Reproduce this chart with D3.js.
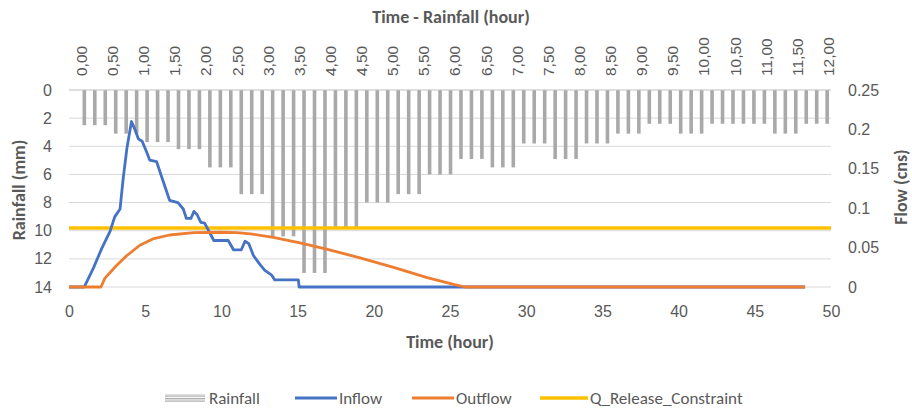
<!DOCTYPE html>
<html><head><meta charset="utf-8">
<script src="https://cdn.jsdelivr.net/npm/d3@7/dist/d3.min.js"></script>
<style>
html,body{margin:0;padding:0;background:#fff;}
svg{display:block;font-family:Carlito,Lato,"Open Sans",sans-serif;}
</style></head><body>
<svg id="chart" width="912" height="410"></svg>
<script>
// ---- data ----
const rainTickLabels = ["0,00","0,50","1,00","1,50","2,00","2,50","3,00","3,50","4,00","4,50","5,00","5,50","6,00",
  "6,50","7,00","7,50","8,00","8,50","9,00","9,50","10,00","10,50","11,00","11,50","12,00"];
const rainfall = [2.5,2.5,2.5, 3.1,3.1,3.1, 3.7,3.7,3.7, 4.2,4.2,4.2, 5.5,5.5,5.5, 7.4,7.4,7.4,
  10.4,10.4,10.4, 13.0,13.0,13.0, 9.8,9.8,9.8, 8.0,8.0,8.0, 7.4,7.4,7.4, 6.0,6.0,6.0,
  4.9,4.9,4.9, 5.5,5.5,5.5, 3.8,3.8,3.8, 4.9,4.9,4.9, 3.8,3.8,3.8, 3.1,3.1,3.1,
  2.4,2.4,2.4, 3.1,3.1,3.1, 2.4,2.4,2.4, 2.4,2.4,2.4, 3.1,3.1,3.1, 2.4,2.4,2.4];
const inflowTime = [0,1.0,1.6,2.15,2.7,3.0,3.35,3.55,3.8,4.1,4.3,4.55,4.8,5.1,5.3,5.75,6.2,6.6,7.15,7.5,7.7,8.0,8.2,8.4,8.65,8.9,9.15,9.5,10.45,10.8,11.3,11.55,11.8,12.1,12.55,12.85,13.3,13.5,15.05,15.1,48.3];
const inflowQ = [0,0,0.024,0.049,0.071,0.089,0.099,0.137,0.176,0.210,0.201,0.188,0.185,0.171,0.161,0.159,0.133,0.110,0.107,0.099,0.087,0.087,0.096,0.092,0.082,0.081,0.072,0.059,0.059,0.047,0.047,0.058,0.055,0.040,0.028,0.021,0.015,0.009,0.009,0,0];
const outflowTime = [0,2.1,2.35,3.1,3.8,4.65,5.5,6.6,8.2,9.9,11.0,11.9,13.4,15.15,16.9,19.1,21.3,23.5,25.3,26.0,48.3];
const outflowQ = [0,0,0.011,0.027,0.040,0.053,0.061,0.066,0.069,0.0695,0.069,0.0675,0.063,0.056,0.048,0.037,0.025,0.012,0.003,0,0];
const releaseTime = [0,50];
const releaseQ = [0.075,0.075];
const rainTicks = [0,2,4,6,8,10,12,14];
const flowTicks = [0,0.05,0.1,0.15,0.2,0.25];
const timeTicks = [0,5,10,15,20,25,30,35,40,45,50];

// ---- layout ----
const svg = d3.select("#chart");
const L = 69, R = 831, T = 90, B = 287;
const txt = "#595959";

const x = d3.scaleLinear().domain([0,50]).range([L,R]);
const yRain = d3.scaleLinear().domain([0,14]).range([T,B]);
const yFlow = d3.scaleLinear().domain([0,0.25]).range([B,T]);
const xBar = d3.scaleBand().domain(d3.range(rainfall.length)).range([79.1,832.4]);
const xTop = d3.scalePoint().domain(rainTickLabels).range([81,828]);

// gridlines
svg.append("g").selectAll("line").data(rainTicks.filter(d=>d>0)).join("line")
  .attr("x1",L).attr("x2",R).attr("y1",d=>yRain(d)).attr("y2",d=>yRain(d))
  .attr("stroke","#d9d9d9").attr("stroke-width",1);

// bars
svg.append("g").selectAll("rect").data(rainfall).join("rect")
  .attr("x",(d,i)=>xBar(i)+xBar.bandwidth()/2-1.8)
  .attr("width",3.6)
  .attr("y",yRain(0))
  .attr("height",d=>yRain(d)-yRain(0))
  .attr("fill","#a9a9a9");

// top category axis line
svg.append("line").attr("x1",L).attr("x2",R).attr("y1",T).attr("y2",T)
  .attr("stroke","#bfbfbf").attr("stroke-width",1.2);

// lines
const line = d3.line().x(d=>x(d[0])).y(d=>yFlow(d[1]));
svg.append("path").datum(releaseTime.map((t,i)=>[t,releaseQ[i]]))
  .attr("d",line).attr("fill","none").attr("stroke","#FFC000").attr("stroke-width",3.5);
svg.append("path").datum(inflowTime.map((t,i)=>[t,inflowQ[i]]))
  .attr("d",line).attr("fill","none").attr("stroke","#4472C4").attr("stroke-width",2.8).attr("stroke-linejoin","round");
svg.append("path").datum(outflowTime.map((t,i)=>[t,outflowQ[i]]))
  .attr("d",line).attr("fill","none").attr("stroke","#ED7D31").attr("stroke-width",2.8).attr("stroke-linejoin","round");

// left axis
const gl = svg.append("g").attr("transform",`translate(${L},0)`)
  .call(d3.axisLeft(yRain).tickValues(rainTicks).tickSize(0).tickPadding(17));
gl.select(".domain").remove();
gl.selectAll("text").attr("fill",txt).style("font-size","16px");

// right axis
const gr = svg.append("g").attr("transform",`translate(${R},0)`)
  .call(d3.axisRight(yFlow).tickValues(flowTicks).tickSize(0).tickPadding(17).tickFormat(d3.format("")));
gr.select(".domain").remove();
gr.selectAll("text").attr("fill",txt).style("font-size","16px");

// bottom axis
const gb = svg.append("g").attr("transform",`translate(0,${B})`)
  .call(d3.axisBottom(x).tickValues(timeTicks).tickSize(0).tickPadding(19));
gb.select(".domain").remove();
gb.selectAll("text").attr("fill",txt).style("font-size","16px");

// top axis labels (rotated)
const gt = svg.append("g").attr("transform",`translate(0,${T})`)
  .call(d3.axisTop(xTop).tickSize(0).tickPadding(0));
gt.select(".domain").remove();
gt.selectAll("text").attr("fill",txt).style("font-size","15.5px")
  .attr("transform","translate(0,-14) rotate(-90)")
  .attr("text-anchor","start").attr("dy","0.35em").attr("x",0).attr("y",0);

// titles
const titleStyle = s => s.attr("fill",txt).style("font-size","18px").style("font-weight","bold").attr("text-anchor","middle");
svg.append("text").attr("x",451).attr("y",23).call(titleStyle).text("Time - Rainfall (hour)");
svg.append("text").attr("x",450).attr("y",348).call(titleStyle).text("Time (hour)");
svg.append("text").attr("transform","translate(25,190) rotate(-90)").call(titleStyle).text("Rainfall (mm)");
svg.append("text").attr("transform","translate(907,187) rotate(-90)").call(titleStyle).text("Flow (cns)");

// legend
const legendNames = ["Rainfall","Inflow","Outflow","Q_Release_Constraint"];
const legendColors = ["#a9a9a9","#4472C4","#ED7D31","#FFC000"];
const legendX = [165,295,412,540];
const lg = svg.append("g");
const defs = svg.append("defs");
const pat = defs.append("pattern").attr("id","stripes").attr("patternUnits","userSpaceOnUse").attr("width",4).attr("height",2.5);
pat.append("rect").attr("width",4).attr("height",1.3).attr("fill","#a9a9a9");
legendNames.forEach((n,i)=>{
  const g = lg.append("g").attr("transform",`translate(${legendX[i]},398)`);
  if(i===0){
    g.append("rect").attr("x",0).attr("y",-4).attr("width",40).attr("height",8).attr("fill","url(#stripes)");
  } else {
    g.append("line").attr("x1",0).attr("x2",i===3?48:42).attr("y1",0).attr("y2",0)
      .attr("stroke",legendColors[i]).attr("stroke-width",i===3?3.5:3);
  }
  g.append("text").attr("x",i===0?44:(i===3?50:44)).attr("y",0).attr("dy","0.35em")
    .attr("fill",txt).style("font-size","17px").text(n);
});
</script>
</body></html>
